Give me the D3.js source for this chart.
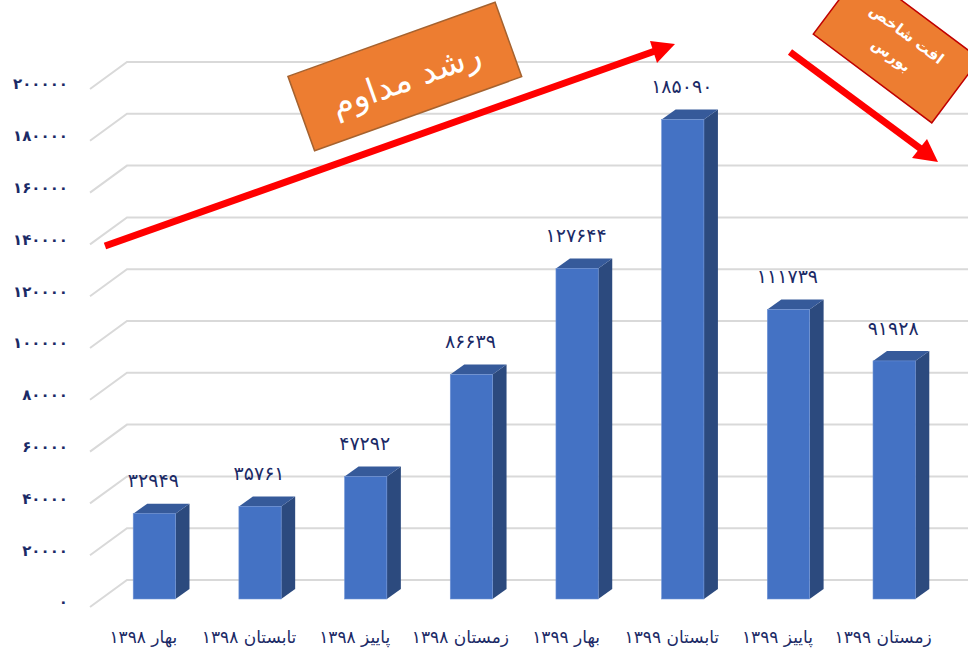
<!DOCTYPE html>
<html lang="fa">
<head>
<meta charset="UTF-8">
<title>Chart</title>
<script src="https://d3js.org/d3.v7.min.js"></script>
<style>
  body { margin: 0; background: #fff; }
  svg { display: block; }
  text { font-family: "DejaVu Sans", sans-serif; }
</style>
</head>
<body>
<svg width="968" height="653" id="canvas"></svg>
<script>
const categories = ["بهار ۱۳۹۸", "تابستان ۱۳۹۸", "پاییز ۱۳۹۸", "زمستان ۱۳۹۸", "بهار ۱۳۹۹", "تابستان ۱۳۹۹", "پاییز ۱۳۹۹", "زمستان ۱۳۹۹"];
const values = [32949, 35761, 47292, 86639, 127644, 185090, 111739, 91928];
const yTicks = [0, 20000, 40000, 60000, 80000, 100000, 120000, 140000, 160000, 180000, 200000];

const navy = "#1b2a66";
const svg = d3.select("#canvas");

// persian digits for every number on the chart
const fa = v => String(v).replace(/\d/g, d => "۰۱۲۳۴۵۶۷۸۹"[d]);

const x = d3.scaleBand().domain(categories).range([101.5, 947]).paddingInner(0.6).paddingOuter(0.3);
const y = d3.scaleLinear().domain([0, 200000]).range([580, 62]);

// 3d offsets: floor depth and bar depth
const floorDx = 37, floorDy = 27;
const barDx = 14, barDy = 10;
const frontDrop = 19; // bar front sits this far below the back wall

// gridlines: back wall + slanted side wall
svg.append("g").selectAll("polyline")
  .data(yTicks)
  .join("polyline")
  .attr("points", d => [[90, y(d) + floorDy], [90 + floorDx, y(d)], [968, y(d)]].join(" "))
  .attr("fill", "none")
  .attr("stroke", "#d9d9d9")
  .attr("stroke-width", 2);

// y axis
const yAxis = svg.append("g")
  .attr("transform", "translate(68,22)")
  .call(d3.axisLeft(y).tickValues(yTicks).tickSize(0).tickPadding(0).tickFormat(fa));
yAxis.select(".domain").remove();
yAxis.selectAll("text")
  .attr("fill", navy)
  .attr("font-size", 15)
  .attr("font-weight", "bold")
  .style("font-family", "'DejaVu Sans', sans-serif")
  .style("letter-spacing", "3px");

// x axis, labels sit a little left of the bars
const xAxis = svg.append("g")
  .attr("transform", "translate(-11,630)")
  .call(d3.axisBottom(x).tickSize(0).tickPadding(0));
xAxis.select(".domain").remove();
xAxis.selectAll("text")
  .attr("fill", navy)
  .attr("font-size", 17)
  .attr("dy", "0.75em")
  .style("font-family", "'DejaVu Sans', sans-serif");

// bars
const data = categories.map((c, i) => ({ c, v: values[i] }));
const bars = svg.append("g").selectAll("g").data(data).join("g");
const front = d => ({ x0: x(d.c), x1: x(d.c) + x.bandwidth(), top: y(d.v) + frontDrop, bottom: y(0) + frontDrop });

bars.append("polygon") // side
  .attr("points", d => { const f = front(d); return [[f.x1, f.top], [f.x1 + barDx, f.top - barDy], [f.x1 + barDx, f.bottom - barDy], [f.x1, f.bottom]].join(" "); })
  .attr("fill", "#2c4a7e");
bars.append("polygon") // top
  .attr("points", d => { const f = front(d); return [[f.x0, f.top], [f.x0 + barDx, f.top - barDy], [f.x1 + barDx, f.top - barDy], [f.x1, f.top]].join(" "); })
  .attr("fill", "#365a9a");
bars.append("rect")
  .attr("x", d => front(d).x0)
  .attr("y", d => front(d).top)
  .attr("width", x.bandwidth())
  .attr("height", d => front(d).bottom - front(d).top)
  .attr("fill", "#4472c4")
  .attr("stroke", "#6f93d6")
  .attr("stroke-width", 0.6);

// value labels
bars.append("text")
  .attr("x", d => front(d).x0 + x.bandwidth() / 2 - 1)
  .attr("y", d => front(d).top - 33)
  .attr("dy", "0.35em")
  .attr("text-anchor", "middle")
  .attr("fill", navy)
  .attr("font-size", 19)
  .text(d => fa(d.v));

// red annotation arrows
function arrow(tail, neck, tip, a, b) {
  svg.append("line")
    .attr("x1", tail[0]).attr("y1", tail[1]).attr("x2", neck[0]).attr("y2", neck[1])
    .attr("stroke", "#ff0000").attr("stroke-width", 7);
  svg.append("polygon").attr("points", [tip, a, b].join(" ")).attr("fill", "#ff0000");
}
arrow([105, 246], [655, 51], [675, 44], [650, 41], [657, 63]);
arrow([790, 52], [921, 149], [938, 162], [927, 139], [912, 158]);

// orange callouts
const growth = svg.append("g").attr("transform", "translate(405,77) rotate(-19.7)");
growth.append("rect")
  .attr("x", -110).attr("y", -40).attr("width", 220).attr("height", 79)
  .attr("fill", "#ed7d31").attr("stroke", "#a5622f").attr("stroke-width", 1.5);
growth.append("text")
  .attr("y", 2).attr("dy", "0.35em").attr("text-anchor", "middle")
  .attr("fill", "#fff").attr("font-size", 34)
  .text("رشد مداوم");

const drop = svg.append("g").attr("transform", "translate(896.5,46.5) rotate(36.8)");
drop.append("rect")
  .attr("x", -74).attr("y", -40).attr("width", 148).attr("height", 80)
  .attr("fill", "#ed7d31").attr("stroke", "#c00000").attr("stroke-width", 1.5);
drop.append("text")
  .attr("x", 1).attr("y", -16).attr("dy", "0.35em").attr("text-anchor", "middle")
  .attr("fill", "#fff").attr("font-size", 15).attr("font-weight", "bold")
  .text("افت شاخص");
drop.append("text")
  .attr("x", 1).attr("y", 10).attr("dy", "0.35em").attr("text-anchor", "middle")
  .attr("fill", "#fff").attr("font-size", 15).attr("font-weight", "bold")
  .text("بورس");
</script>
</body>
</html>
